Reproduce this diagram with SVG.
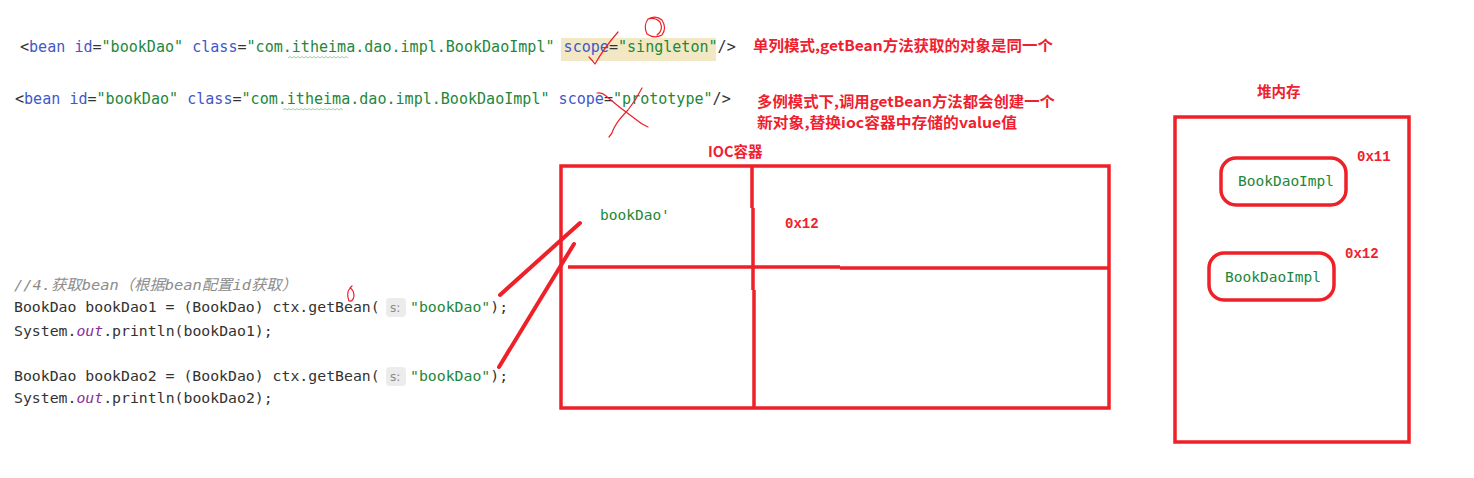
<svg xmlns="http://www.w3.org/2000/svg" width="1474" height="478" viewBox="0 0 1474 478">
<style>
.code{font-family:"DejaVu Sans Mono","Noto Sans CJK SC",monospace;font-size:15.05px;fill:#333}
.code2{font-family:"DejaVu Sans Mono","Noto Sans CJK SC",monospace;font-size:14.82px;fill:#333}
.kw{fill:#4257c9}
.str{fill:#23873a}
.out{fill:#8a2ea0;font-style:italic}
.cmt{fill:#8c8c8c;font-style:italic}
.note{font-family:"Noto Sans CJK SC","Liberation Serif",serif;font-size:14.5px;font-weight:700;fill:#f0202e}
.addr{font-family:"Liberation Mono","DejaVu Sans Mono",monospace;font-size:14px;font-weight:700;fill:#f0202e}
.box{fill:none;stroke:#ee2028;stroke-width:3.5}
.pen{fill:none;stroke:#ee2028;stroke-width:4;stroke-linecap:round}
.thin{fill:none;stroke:#ee2028;stroke-width:1.2;stroke-linecap:round;stroke-linejoin:round}
.hint{fill:#ececec}
.hintt{font-family:"DejaVu Sans","Noto Sans",sans-serif;font-size:12px;fill:#8a8a8a}
.wave{fill:none;stroke:#9fd39f;stroke-width:1}
.green{font-family:"DejaVu Sans Mono",monospace;font-size:14.5px;fill:#23873a}
</style>
<rect width="1474" height="478" fill="#ffffff"/>

<g id="xml-lines">
  <rect x="561" y="38" width="155" height="23" fill="#f2e8c4"/>
  <text class="code" x="20" y="52">&lt;<tspan class="kw">bean</tspan> <tspan class="kw">id</tspan>=<tspan class="str">"bookDao"</tspan> <tspan class="kw">class</tspan>=<tspan class="str">"com.itheima.dao.impl.BookDaoImpl"</tspan> <tspan class="kw">scope</tspan>=<tspan class="str">"singleton"</tspan>/&gt;</text>
  <path class="wave" d="M288 58 l2 -1.5 l2 1.5 l2 -1.5 l2 1.5 l2 -1.5 l2 1.5 l2 -1.5 l2 1.5 l2 -1.5 l2 1.5 l2 -1.5 l2 1.5 l2 -1.5 l2 1.5 l2 -1.5 l2 1.5 l2 -1.5 l2 1.5 l2 -1.5 l2 1.5 l2 -1.5 l2 1.5 l2 -1.5 l2 1.5 l2 -1.5 l2 1.5 l2 -1.5 l2 1.5 l2 -1.5 l2 1.5"/>
  <text class="code" x="15" y="104">&lt;<tspan class="kw">bean</tspan> <tspan class="kw">id</tspan>=<tspan class="str">"bookDao"</tspan> <tspan class="kw">class</tspan>=<tspan class="str">"com.itheima.dao.impl.BookDaoImpl"</tspan> <tspan class="kw">scope</tspan>=<tspan class="str">"prototype"</tspan>/&gt;</text>
  <path class="wave" d="M283 110 l2 -1.5 l2 1.5 l2 -1.5 l2 1.5 l2 -1.5 l2 1.5 l2 -1.5 l2 1.5 l2 -1.5 l2 1.5 l2 -1.5 l2 1.5 l2 -1.5 l2 1.5 l2 -1.5 l2 1.5 l2 -1.5 l2 1.5 l2 -1.5 l2 1.5 l2 -1.5 l2 1.5 l2 -1.5 l2 1.5 l2 -1.5 l2 1.5 l2 -1.5 l2 1.5 l2 -1.5 l2 1.5"/>
</g>

<g id="notes">
  <text class="note" x="753" y="51" textLength="300" lengthAdjust="spacingAndGlyphs">单列模式,getBean方法获取的对象是同一个</text>
  <text class="note" x="757" y="107" textLength="298" lengthAdjust="spacingAndGlyphs">多例模式下,调用getBean方法都会创建一个</text>
  <text class="note" x="757" y="128" textLength="260" lengthAdjust="spacingAndGlyphs">新对象,替换ioc容器中存储的value值</text>
</g>

<g id="code">
  <text class="code2 cmt" x="14" y="290" textLength="283" lengthAdjust="spacingAndGlyphs">//4.获取bean（根据bean配置id获取）</text>
  <text class="code2" x="14" y="312">BookDao bookDao1 = (BookDao) ctx.getBean(</text>
  <rect class="hint" x="386" y="298" width="20" height="19" rx="4"/>
  <text class="hintt" x="390" y="312">s:</text>
  <text class="code2" x="410" y="312"><tspan class="str">"bookDao"</tspan>);</text>
  <text class="code2" x="14" y="336">System.<tspan class="out">out</tspan>.println(bookDao1);</text>
  <text class="code2" x="14" y="381">BookDao bookDao2 = (BookDao) ctx.getBean(</text>
  <rect class="hint" x="386" y="367" width="20" height="19" rx="4"/>
  <text class="hintt" x="390" y="381">s:</text>
  <text class="code2" x="410" y="381"><tspan class="str">"bookDao"</tspan>);</text>
  <text class="code2" x="14" y="403">System.<tspan class="out">out</tspan>.println(bookDao2);</text>
</g>

<g id="ioc-container">
  <text class="note" x="708" y="157" font-size="14">IOC容器</text>
  <rect class="box" x="561" y="166" width="548" height="242"/>
  <path class="box" d="M752 166 V208 M753 208 V290 M754 290 V408"/>
  <path class="box" d="M568 267 H840 M840 268 H1110"/>
  <text class="green" x="600" y="220">bookDao'</text>
  <text class="addr" x="785" y="228">0x12</text>
</g>

<g id="heap">
  <text class="note" x="1257" y="97" font-size="14">堆内存</text>
  <rect class="box" x="1175" y="117" width="234" height="325"/>
  <g id="obj1">
    <rect class="box" x="1221" y="158" width="125" height="47" rx="15"/>
    <text class="green" x="1238" y="186">BookDaoImpl</text>
    <text class="addr" x="1357" y="161">0x11</text>
  </g>
  <g id="obj2">
    <rect class="box" x="1209" y="253" width="125" height="47" rx="15"/>
    <text class="green" x="1225" y="282">BookDaoImpl</text>
    <text class="addr" x="1345" y="258">0x12</text>
  </g>
</g>

<g id="connectors">
  <path class="pen" d="M500 295 L580 223"/>
  <path class="pen" d="M499 367 L574 244"/>
</g>

<g id="doodles">
  <path class="thin" d="M589 57 Q593 61 595 64 Q604 48 618 32"/>
  <path class="thin" d="M648 19 Q656 15 662 20 Q667 28 662 35 Q654 39 647 34 Q643 26 648 19 Q655 17 660 22 Q664 30 657 35"/>
  <path class="thin" d="M597 93 Q602 92 606 96 Q620 108 634 118 Q641 124 648 127"/>
  <path class="thin" d="M642 88 Q636 100 628 110 Q618 120 614 128 Q612 134 609 137"/>
  <path class="thin" d="M350 288 Q346 293 349 301 Q353 302 354 296 Q354 290 350 288 M350 288 L352 286"/>
</g>
</svg>
